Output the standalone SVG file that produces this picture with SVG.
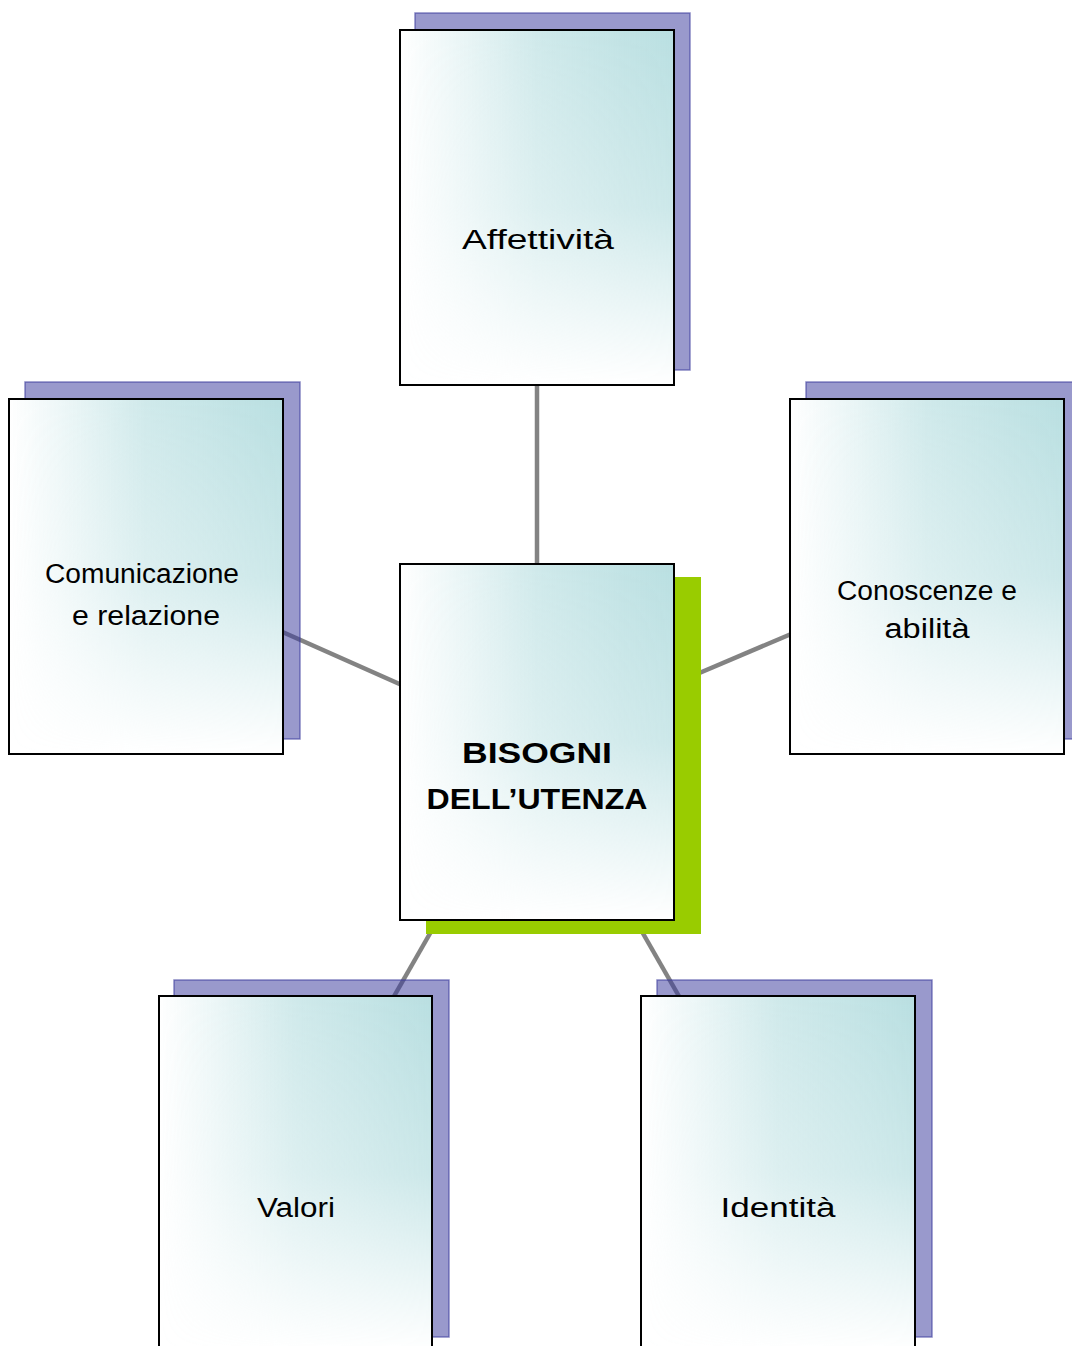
<svg xmlns="http://www.w3.org/2000/svg" width="1072" height="1346" viewBox="0 0 1072 1346">
<style>
.conn{stroke:#838383;stroke-width:4.5;fill:none}
.sh{fill:rgb(59,59,157);fill-opacity:0.52;stroke:rgb(59,59,157);stroke-opacity:0.6;stroke-width:1.5}
.shg{fill:#99cc00}
.base{fill:#ffffff}
.tint{fill:url(#gh);mask:url(#mv)}
.box{fill:none;stroke:#000;stroke-width:2}
.t{font-family:"Liberation Sans","DejaVu Sans",sans-serif;font-size:27px;fill:#000;text-anchor:middle}
.b{font-weight:bold;font-size:29px}
</style>
<defs>
<linearGradient id="gh" x1="0" y1="0" x2="1" y2="0">
<stop offset="0" stop-color="#b9dfe1" stop-opacity="0"/>
<stop offset="0.5" stop-color="#b9dfe1" stop-opacity="0.68"/>
<stop offset="1" stop-color="#b9dfe1" stop-opacity="1"/>
</linearGradient>
<linearGradient id="gv" x1="0" y1="0" x2="0" y2="1">
<stop offset="0" stop-color="#fff"/>
<stop offset="0.5" stop-color="#b8b8b8"/>
<stop offset="1" stop-color="#000"/>
</linearGradient>
<mask id="mv" maskUnits="objectBoundingBox" maskContentUnits="objectBoundingBox" x="0" y="0" width="1" height="1">
<rect width="1" height="1" fill="url(#gv)"/>
</mask>
</defs>
<rect width="1072" height="1346" fill="#fff"/>
<g id="connectors">
<line class="conn" x1="537" y1="380" x2="537" y2="570"/>
<line class="conn" x1="260" y1="622" x2="404" y2="686"/>
<line class="conn" x1="810" y1="626" x2="690" y2="677"/>
<line class="conn" x1="440" y1="916" x2="385" y2="1012"/>
<line class="conn" x1="633" y1="916" x2="688" y2="1012"/>
</g>
<g id="node-affettivita">
<rect class="sh" x="415" y="13" width="275" height="357"/>
<rect class="base" x="400" y="30" width="274" height="355"/>
<rect class="tint" x="400" y="30" width="274" height="355"/>
<rect class="box" x="400" y="30" width="274" height="355"/>
<text class="t" x="538" y="249" textLength="152" lengthAdjust="spacingAndGlyphs">Affettività</text>
</g>
<g id="node-comunicazione">
<rect class="sh" x="25" y="382" width="275" height="357"/>
<rect class="base" x="9" y="399" width="274" height="355"/>
<rect class="tint" x="9" y="399" width="274" height="355"/>
<rect class="box" x="9" y="399" width="274" height="355"/>
<text class="t" x="142" y="583" textLength="194" lengthAdjust="spacingAndGlyphs">Comunicazione</text>
<text class="t" x="146" y="625" textLength="148" lengthAdjust="spacingAndGlyphs">e relazione</text>
</g>
<g id="node-conoscenze">
<rect class="sh" x="806" y="382" width="275" height="357"/>
<rect class="base" x="790" y="399" width="274" height="355"/>
<rect class="tint" x="790" y="399" width="274" height="355"/>
<rect class="box" x="790" y="399" width="274" height="355"/>
<text class="t" x="927" y="600" textLength="180" lengthAdjust="spacingAndGlyphs">Conoscenze e</text>
<text class="t" x="927" y="638" textLength="85" lengthAdjust="spacingAndGlyphs">abilità</text>
</g>
<g id="node-bisogni">
<rect class="shg" x="426" y="577" width="275" height="357"/>
<rect class="base" x="400" y="564" width="274" height="356"/>
<rect class="tint" x="400" y="564" width="274" height="356"/>
<rect class="box" x="400" y="564" width="274" height="356"/>
<text class="t b" x="537" y="763" textLength="150" lengthAdjust="spacingAndGlyphs">BISOGNI</text>
<text class="t b" x="537" y="809" textLength="221" lengthAdjust="spacingAndGlyphs">DELL’UTENZA</text>
</g>
<g id="node-valori">
<rect class="sh" x="174" y="980" width="275" height="357"/>
<rect class="base" x="159" y="996" width="273" height="356"/>
<rect class="tint" x="159" y="996" width="273" height="356"/>
<rect class="box" x="159" y="996" width="273" height="400"/>
<text class="t" x="296" y="1217" textLength="78" lengthAdjust="spacingAndGlyphs">Valori</text>
</g>
<g id="node-identita">
<rect class="sh" x="657" y="980" width="275" height="357"/>
<rect class="base" x="641" y="996" width="274" height="356"/>
<rect class="tint" x="641" y="996" width="274" height="356"/>
<rect class="box" x="641" y="996" width="274" height="400"/>
<text class="t" x="778" y="1217" textLength="115" lengthAdjust="spacingAndGlyphs">Identità</text>
</g>
</svg>
